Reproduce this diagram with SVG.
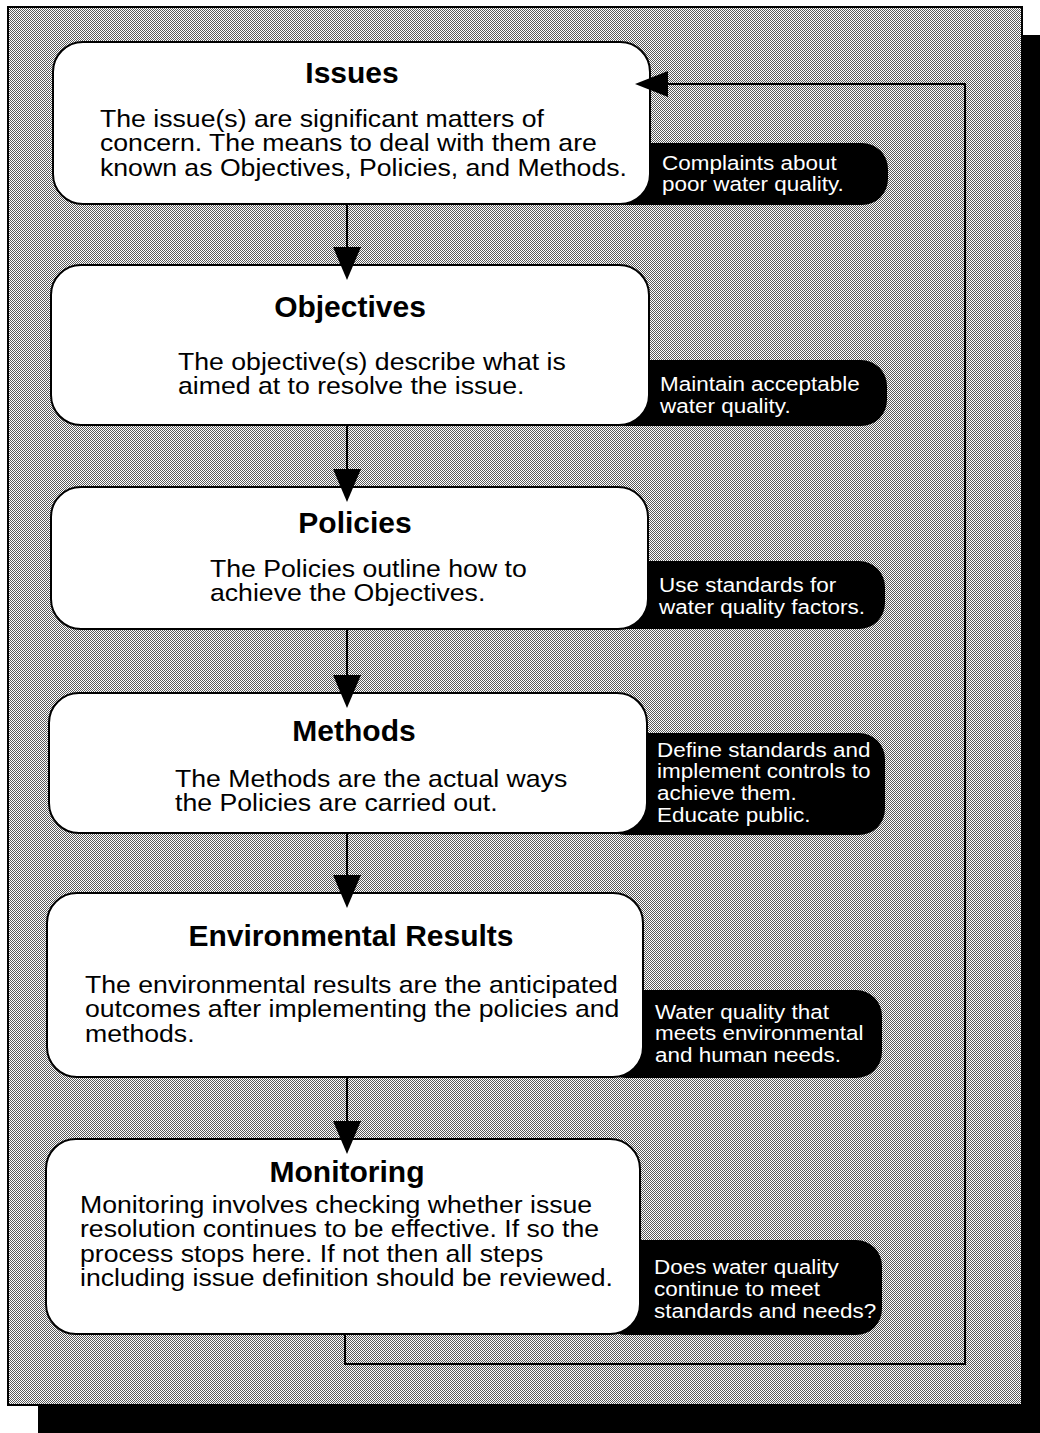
<svg xmlns="http://www.w3.org/2000/svg" width="1040" height="1433" viewBox="0 0 1040 1433">
<defs>
<pattern id="dither" width="2" height="2" patternUnits="userSpaceOnUse">
<rect width="2" height="2" fill="#fff"/>
<rect width="1" height="1" fill="#5a5a5a"/>
<rect x="1" y="1" width="1" height="1" fill="#5a5a5a"/>
</pattern>
</defs>
<style>
.box{fill:#fff;stroke:#000;stroke-width:2}
.pill{fill:#000}
.title{font-family:"Liberation Sans",Arial,sans-serif;font-weight:bold;font-size:30px;fill:#000;text-anchor:middle}
.body{font-family:"Liberation Sans",Arial,sans-serif;font-size:24px;fill:#000}
.note{font-family:"Liberation Sans",Arial,sans-serif;font-size:21px;fill:#fff}
.line{fill:none;stroke:#000;stroke-width:2}
.head{fill:#000}
</style>
<g id="frame">
<rect x="38" y="35" width="1002" height="1398" fill="#000"/>
<rect x="8" y="7" width="1014" height="1398" fill="url(#dither)" stroke="#000" stroke-width="2"/>
</g>
<g id="notes">
<g id="note-issues"><rect class="pill" x="600" y="143" width="288" height="62" rx="26"/>
<g transform="translate(662 0) scale(1.07 1)"><text class="note" x="0" y="170">Complaints about</text><text class="note" x="0" y="191.5">poor water quality.</text></g></g>
<g id="note-objectives"><rect class="pill" x="600" y="360" width="287" height="66" rx="26"/>
<g transform="translate(660 0) scale(1.07 1)"><text class="note" x="0" y="391">Maintain acceptable</text><text class="note" x="0" y="413">water quality.</text></g></g>
<g id="note-policies"><rect class="pill" x="600" y="561" width="285" height="68" rx="26"/>
<g transform="translate(659 0) scale(1.07 1)"><text class="note" x="0" y="592">Use standards for</text><text class="note" x="0" y="614">water quality factors.</text></g></g>
<g id="note-methods"><rect class="pill" x="600" y="733" width="285" height="102" rx="26"/>
<g transform="translate(657 0) scale(1.07 1)"><text class="note" x="0" y="757">Define standards and</text><text class="note" x="0" y="778.5">implement controls to</text><text class="note" x="0" y="800">achieve them.</text><text class="note" x="0" y="822">Educate public.</text></g></g>
<g id="note-results"><rect class="pill" x="600" y="990" width="282" height="88" rx="26"/>
<g transform="translate(655 0) scale(1.07 1)"><text class="note" x="0" y="1019">Water quality that</text><text class="note" x="0" y="1040.5">meets environmental</text><text class="note" x="0" y="1062">and human needs.</text></g></g>
<g id="note-monitoring"><rect class="pill" x="600" y="1240" width="282" height="95" rx="26"/>
<g transform="translate(654 0) scale(1.07 1)"><text class="note" x="0" y="1274">Does water quality</text><text class="note" x="0" y="1296">continue to meet</text><text class="note" x="0" y="1318">standards and needs?</text></g></g>
</g>
<g id="issues"><rect class="box" x="53" y="42" width="597" height="162" rx="30"/>
<text class="title" x="352" y="83">Issues</text>
<g transform="translate(100 0) scale(1.11 1)">
<text class="body" x="0" y="127">The issue(s) are significant matters of</text>
<text class="body" x="0" y="151.5">concern. The means to deal with them are</text>
<text class="body" x="0" y="176">known as Objectives, Policies, and Methods.</text></g></g>
<g id="objectives"><rect class="box" x="51" y="265" width="598" height="160" rx="30"/>
<text class="title" x="350" y="317">Objectives</text>
<g transform="translate(178 0) scale(1.11 1)">
<text class="body" x="0" y="370">The objective(s) describe what is</text>
<text class="body" x="0" y="394.5">aimed at to resolve the issue.</text></g></g>
<g id="policies"><rect class="box" x="51" y="487" width="597" height="142" rx="30"/>
<text class="title" x="355" y="533">Policies</text>
<g transform="translate(210 0) scale(1.11 1)">
<text class="body" x="0" y="577">The Policies outline how to</text>
<text class="body" x="0" y="601.5">achieve the Objectives.</text></g></g>
<g id="methods"><rect class="box" x="49" y="693" width="598" height="140" rx="30"/>
<text class="title" x="354" y="741">Methods</text>
<g transform="translate(175 0) scale(1.11 1)">
<text class="body" x="0" y="787">The Methods are the actual ways</text>
<text class="body" x="0" y="811.5">the Policies are carried out.</text></g></g>
<g id="results"><rect class="box" x="47" y="893" width="596" height="184" rx="30"/>
<text class="title" x="351" y="946">Environmental Results</text>
<g transform="translate(85 0) scale(1.11 1)">
<text class="body" x="0" y="993">The environmental results are the anticipated</text>
<text class="body" x="0" y="1017.5">outcomes after implementing the policies and</text>
<text class="body" x="0" y="1042">methods.</text></g></g>
<g id="monitoring"><rect class="box" x="46" y="1139" width="594" height="195" rx="30"/>
<text class="title" x="347" y="1182">Monitoring</text>
<g transform="translate(80 0) scale(1.11 1)">
<text class="body" x="0" y="1213">Monitoring involves checking whether issue</text>
<text class="body" x="0" y="1237.5">resolution continues to be effective. If so the</text>
<text class="body" x="0" y="1262">process stops here. If not then all steps</text>
<text class="body" x="0" y="1286.5">including issue definition should be reviewed.</text></g></g>
<g id="connectors">
<line class="line" x1="347" y1="204" x2="347" y2="250"/><polygon class="head" points="333,247 361,247 347,280"/>
<line class="line" x1="347" y1="425" x2="347" y2="472"/><polygon class="head" points="333,469 361,469 347,502"/>
<line class="line" x1="347" y1="629" x2="347" y2="678"/><polygon class="head" points="333,675 361,675 347,708"/>
<line class="line" x1="347" y1="833" x2="347" y2="878"/><polygon class="head" points="333,875 361,875 347,908"/>
<line class="line" x1="347" y1="1077" x2="347" y2="1124"/><polygon class="head" points="333,1121 361,1121 347,1154"/>
<polyline class="line" points="345,1334 345,1364 965,1364 965,84 665,84"/><polygon class="head" points="668,71 668,97 635,84"/>
</g>
</svg>
